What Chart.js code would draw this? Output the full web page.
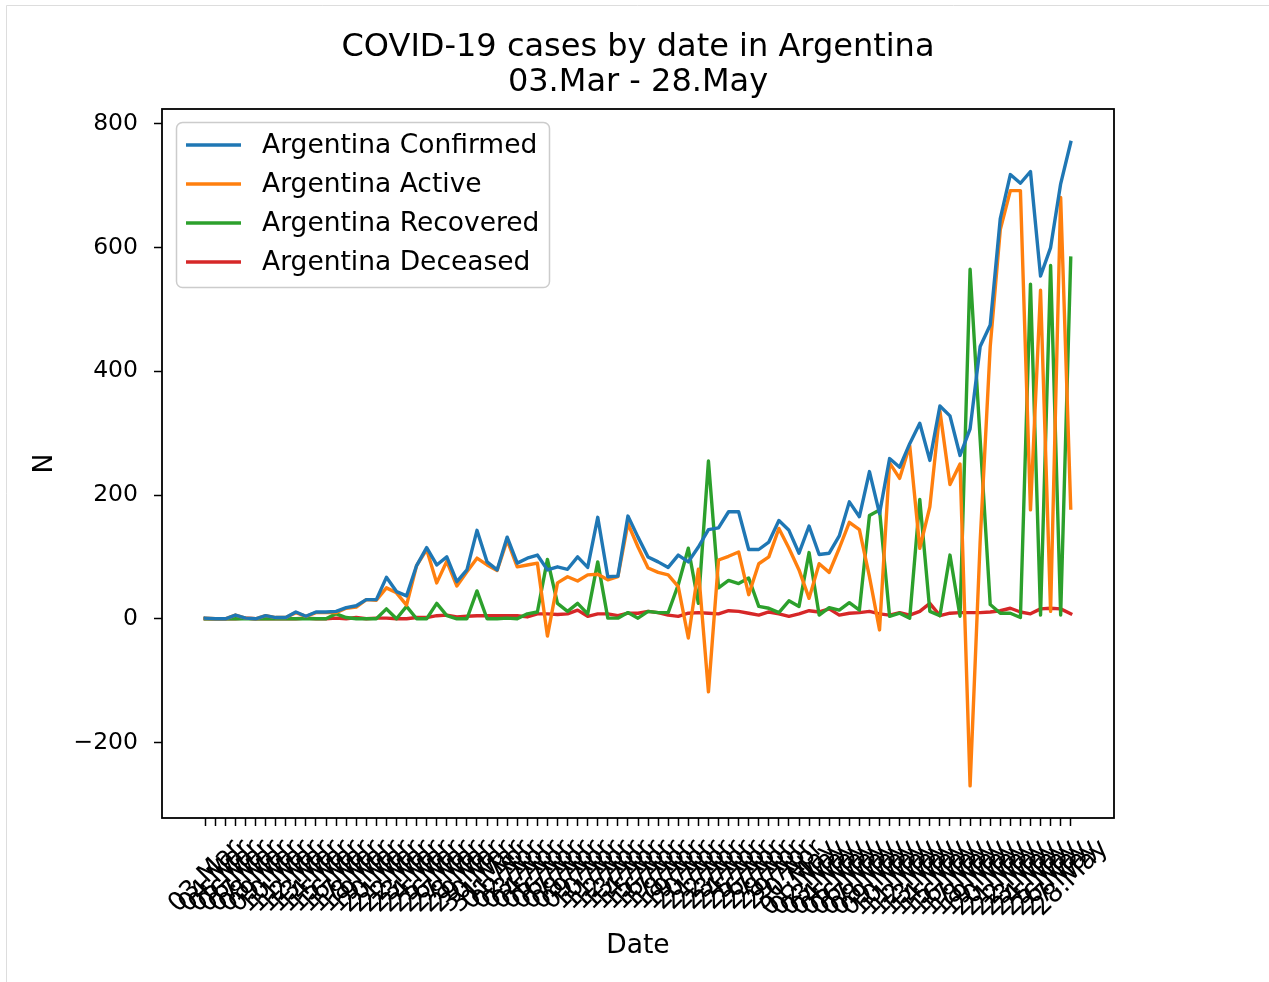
<!DOCTYPE html>
<html>
<head>
<meta charset="utf-8">
<title>COVID-19 cases by date in Argentina</title>
<script src="https://cdn.jsdelivr.net/npm/chart.js"></script>
<style>
    body { margin: 0; background: #fff; }
    canvas { display: block; }
</style>
</head>
<body>
<canvas id="myChart" width="1269" height="982"></canvas>
<script>
var dates = [
    '03.Mar', '04.Mar', '05.Mar', '06.Mar', '07.Mar', '08.Mar', '09.Mar', '10.Mar', '11.Mar', '12.Mar',
    '13.Mar', '14.Mar', '15.Mar', '16.Mar', '17.Mar', '18.Mar', '19.Mar', '20.Mar', '21.Mar', '22.Mar',
    '23.Mar', '24.Mar', '25.Mar', '26.Mar', '27.Mar', '28.Mar', '29.Mar', '30.Mar', '31.Mar', '01.Apr',
    '02.Apr', '03.Apr', '04.Apr', '05.Apr', '06.Apr', '07.Apr', '08.Apr', '09.Apr', '10.Apr', '11.Apr',
    '12.Apr', '13.Apr', '14.Apr', '15.Apr', '16.Apr', '17.Apr', '18.Apr', '19.Apr', '20.Apr', '21.Apr',
    '22.Apr', '23.Apr', '24.Apr', '25.Apr', '26.Apr', '27.Apr', '28.Apr', '29.Apr', '30.Apr', '01.May',
    '02.May', '03.May', '04.May', '05.May', '06.May', '07.May', '08.May', '09.May', '10.May', '11.May',
    '12.May', '13.May', '14.May', '15.May', '16.May', '17.May', '18.May', '19.May', '20.May', '21.May',
    '22.May', '23.May', '24.May', '25.May', '26.May', '27.May', '28.May'
];
var yTicks = [-200, 0, 200, 400, 600, 800];

var confirmed = [
    1, 0, 0, 6, 1, 0, 5, 2, 2, 11,
    4, 11, 11, 12, 18, 21, 31, 31, 67, 44,
    37, 86, 115, 87, 100, 60, 79, 143, 92, 79,
    132, 90, 98, 103, 79, 84, 80, 100, 83, 164,
    68, 69, 166, 132, 100, 92, 83, 103, 92, 116,
    144, 147, 173, 173, 112, 112, 124, 159, 143, 106,
    150, 104, 106, 134, 189, 165, 238, 170, 259, 245,
    283, 316, 256, 344, 328, 264, 307, 440, 475, 647,
    718, 704, 723, 554, 600, 703, 770
];
var active = [
    1, 0, 0, 6, 1, 0, 5, 2, 2, 10,
    4, 10, 10, 10, 17, 19, 31, 30, 50, 42,
    22, 86, 112, 58, 93, 53, 76, 98, 87, 78,
    127, 84, 87, 90, -28, 58, 68, 61, 71, 72,
    63, 68, 154, 116, 82, 75, 71, 52, -31, 80,
    -118, 95, 101, 108, 39, 89, 100, 146, 114, 79,
    33, 89, 75, 114, 156, 144, 68, -18, 252, 227,
    280, 114, 181, 336, 217, 250, -270, 125, 440, 629,
    692, 692, 176, 531, 12, 681, 179
];
var recovered = [
    0, 0, 0, 0, 0, 0, 0, 0, 0, 0,
    0, 0, 0, 8, 2, 0, 0, 0, 16, 0,
    20, 0, 0, 25, 5, 0, 0, 45, 0, 0,
    1, 0, 8, 11, 96, 25, 12, 25, 8, 92,
    1, 1, 10, 1, 12, 10, 10, 55, 114, 25,
    255, 50, 62, 57, 66, 20, 17, 10, 29, 20,
    107, 6, 18, 14, 26, 14, 167, 176, 4, 9,
    1, 193, 12, 5, 103, 4, 565, 290, 23, 9,
    9, 2, 541, 6, 571, 6, 583
];
var deceased = [
    0, 0, 0, 0, 1, 0, 0, 0, 0, 0,
    1, 0, 0, 1, 0, 2, 0, 1, 1, 0,
    0, 2, 2, 5, 6, 3, 4, 5, 5, 5,
    5, 5, 3, 8, 8, 7, 8, 14, 4, 8,
    8, 5, 9, 9, 12, 10, 6, 4, 9, 10,
    9, 8, 13, 12, 9, 6, 11, 8, 4, 8,
    13, 11, 16, 6, 9, 10, 12, 8, 6, 10,
    6, 12, 25, 5, 9, 10, 10, 10, 11, 13,
    17, 11, 8, 16, 17, 16, 8
];

var FONT = '"DejaVu Sans", sans-serif';

function pts(values) {
    return values.map(function (v, i) { return { x: i, y: v }; });
}

// title, frame, legend and rotated date labels, drawn the matplotlib way
var decorations = {
    id: 'decorations',
    beforeDraw: function (chart) {
        var ctx = chart.ctx;
        ctx.save();
        ctx.fillStyle = '#fff';
        ctx.fillRect(0, 0, chart.width, chart.height);
        ctx.strokeStyle = '#dddddd';
        ctx.lineWidth = 1;
        ctx.beginPath();
        ctx.moveTo(6.5, chart.height);
        ctx.lineTo(6.5, 5.5);
        ctx.lineTo(chart.width, 5.5);
        ctx.stroke();
        ctx.restore();
    },
    afterDatasetsDraw: function (chart) {
        var ctx = chart.ctx;
        var a = chart.chartArea;
        ctx.save();
        // axes frame
        ctx.strokeStyle = '#000';
        ctx.lineWidth = 1.8;
        ctx.strokeRect(a.left, a.top, a.right - a.left, a.bottom - a.top);

        // legend
        ctx.beginPath();
        if (ctx.roundRect) {
            ctx.roundRect(176.5, 122.5, 373, 165, 6);
        } else {
            ctx.rect(176.5, 122.5, 373, 165);
        }
        ctx.fillStyle = 'rgba(255,255,255,0.8)';
        ctx.fill();
        ctx.strokeStyle = '#cccccc';
        ctx.lineWidth = 1.5;
        ctx.stroke();
        ctx.font = '26.5px ' + FONT;
        ctx.textAlign = 'left';
        ctx.textBaseline = 'middle';
        chart.data.datasets.forEach(function (ds, k) {
            var yy = 145 + k * 39;
            ctx.strokeStyle = ds.borderColor;
            ctx.lineWidth = 3.3;
            ctx.beginPath();
            ctx.moveTo(186, yy);
            ctx.lineTo(241, yy);
            ctx.stroke();
            ctx.fillStyle = '#000';
            ctx.fillText(ds.label, 262, yy + 1);
        });
        ctx.restore();
    },
    afterDraw: function (chart) {
        var ctx = chart.ctx;
        var a = chart.chartArea;
        var xs = chart.scales.x;
        var cx = (a.left + a.right) / 2;
        ctx.save();
        ctx.fillStyle = '#000';
        ctx.textAlign = 'center';
        ctx.textBaseline = 'middle';

        ctx.font = '32px ' + FONT;
        ctx.fillText('COVID-19 cases by date in Argentina', cx, 48);
        ctx.fillText('03.Mar - 28.May', cx, 83);

        ctx.font = '26.5px ' + FONT;
        ctx.fillText('Date', cx, 946);
        ctx.save();
        ctx.translate(45, (a.top + a.bottom) / 2);
        ctx.rotate(-Math.PI / 2);
        ctx.fillText('N', 0, 0);
        ctx.restore();

        // rotated tick labels: bbox centred on the tick, top under the tick mark
        ctx.font = '26px ' + FONT;
        var top = a.bottom + 16;
        var h = 30;
        dates.forEach(function (d, i) {
            var px = xs.getPixelForValue(i);
            var w = ctx.measureText(d).width;
            var side = (w + h) * Math.SQRT1_2;
            ctx.save();
            ctx.translate(px, top + side / 2);
            ctx.rotate(-Math.PI / 4);
            ctx.fillText(d, 0, 0);
            ctx.restore();
        });
        ctx.restore();
    }
};

var ctx = document.getElementById('myChart').getContext('2d');
var myChart = new Chart(ctx, {
    type: 'line',
    data: {
        datasets: [
            { label: 'Argentina Confirmed', data: pts(confirmed), borderColor: '#1f77b4' },
            { label: 'Argentina Active', data: pts(active), borderColor: '#ff7f0e' },
            { label: 'Argentina Recovered', data: pts(recovered), borderColor: '#2ca02c' },
            { label: 'Argentina Deceased', data: pts(deceased), borderColor: '#d62728' }
        ]
    },
    options: {
        responsive: false,
        animation: false,
        devicePixelRatio: 1,
        layout: { padding: { top: 109, right: 155, left: 0, bottom: 0 } },
        elements: {
            line: { borderWidth: 3.4, tension: 0, fill: false, borderCapStyle: 'square', borderJoinStyle: 'round' },
            point: { radius: 0, hoverRadius: 0 }
        },
        plugins: {
            legend: { display: false },
            title: { display: false },
            tooltip: { enabled: false }
        },
        scales: {
            x: {
                type: 'linear',
                min: -4.3,
                max: 90.3,
                border: { display: false },
                grid: { drawOnChartArea: false, drawTicks: true, tickLength: 8, tickColor: '#000', tickWidth: 1.5 },
                ticks: { display: false, autoSkip: false },
                afterBuildTicks: function (axis) {
                    axis.ticks = dates.map(function (d, i) { return { value: i }; });
                },
                afterFit: function (scale) { scale.height = 164; }
            },
            y: {
                type: 'linear',
                min: -322,
                max: 824,
                border: { display: false },
                grid: { drawOnChartArea: false, drawTicks: true, tickLength: 8, tickColor: '#000', tickWidth: 1.5 },
                ticks: {
                    color: '#000',
                    padding: 16,
                    font: { family: 'DejaVu Sans', size: 23.5 },
                    callback: function (v) { return v < 0 ? '\u2212' + Math.abs(v) : String(v); }
                },
                afterBuildTicks: function (axis) {
                    axis.ticks = yTicks.map(function (v) { return { value: v }; });
                },
                afterFit: function (scale) { scale.width = 162; }
            }
        }
    },
    plugins: [decorations]
});
</script>
</body>
</html>
